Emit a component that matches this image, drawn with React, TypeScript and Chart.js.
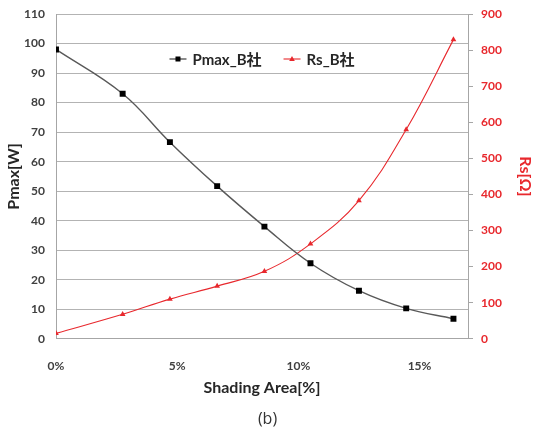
import React, { useEffect, useRef } from "react";
import { Chart, registerables } from "chart.js";

Chart.register(...registerables);

// ---- data ----
const SHADING_PCT = [0, 2.75, 4.7, 6.65, 8.6, 10.5, 12.5, 14.45, 16.4];
const PMAX_W = [98, 83, 66.6, 51.7, 38.0, 25.6, 16.3, 10.3, 6.8];
const RS_OHM = [15, 68, 110, 146, 187, 263, 383, 580, 829];
const X_TICKS = [0, 5, 10, 15];
const SERIES_LABELS = ["Pmax_B社", "Rs_B社"];
const AXIS_TITLES = { x: "Shading Area[%]", y: "Pmax[W]", y1: "Rs[Ω]" };
const CAPTION = "(b)";

const FONT = "Lato, 'Noto Sans CJK JP', sans-serif";
const GRID = "#b3b3b3";
const AXIS = "#a6a6a6";
const DARK = "#404040";
const RED = "#e8282d";

const inlineLegend = {
  id: "inlineLegend",
  afterDatasetsDraw(chart: any) {
    const { ctx, chartArea } = chart;
    const y = chartArea.top + 45;
    ctx.save();
    ctx.font = `bold 15px ${FONT}`;
    const lineLen = 17;
    const gap = 6;
    const itemGap = 22;
    const items = chart.data.datasets.map((ds: any) => ({ ds, w: ctx.measureText(ds.label).width }));
    const total =
      items.reduce((s: number, it: any) => s + lineLen + gap + it.w, 0) + itemGap * (items.length - 1);
    let x = (chartArea.left + chartArea.right) / 2 - total / 2;
    items.forEach(({ ds, w }: any) => {
      ctx.strokeStyle = ds.borderColor;
      ctx.lineWidth = ds.borderWidth;
      ctx.beginPath();
      ctx.moveTo(x, y);
      ctx.lineTo(x + lineLen, y);
      ctx.stroke();
      const cx = x + lineLen / 2;
      ctx.fillStyle = ds.pointBackgroundColor;
      if (ds.pointStyle === "rect") {
        ctx.fillRect(cx - 2.5, y - 2.5, 5, 5);
      } else {
        ctx.beginPath();
        ctx.moveTo(cx, y - 3);
        ctx.lineTo(cx + 2.8, y + 2);
        ctx.lineTo(cx - 2.8, y + 2);
        ctx.closePath();
        ctx.fill();
      }
      ctx.fillStyle = "#262626";
      ctx.textBaseline = "middle";
      ctx.textAlign = "left";
      ctx.fillText(ds.label, x + lineLen + gap, y + 1);
      x += lineLen + gap + w + itemGap;
    });
    ctx.restore();
  },
};

export default function App() {
  const ref = useRef<HTMLCanvasElement | null>(null);

  useEffect(() => {
    document.body.style.margin = "0";
    if (!ref.current) return;
    const pmaxData = SHADING_PCT.map((x, i) => ({ x, y: PMAX_W[i] }));
    const rsData = SHADING_PCT.map((x, i) => ({ x, y: RS_OHM[i] }));
    const tickFont = { family: FONT, size: 12, weight: "bold" as const };
    const titleFont = { family: FONT, size: 16, weight: "bold" as const };

    const chart = new Chart(ref.current, {
      type: "line",
      data: {
        datasets: [
          {
            label: SERIES_LABELS[0],
            data: pmaxData,
            yAxisID: "y",
            borderColor: "#595959",
            borderWidth: 1.4,
            pointStyle: "rect",
            pointRadius: 4.2,
            pointBackgroundColor: "#000000",
            pointBorderColor: "#000000",
            pointBorderWidth: 0,
            tension: 0.4,
          },
          {
            label: SERIES_LABELS[1],
            data: rsData,
            yAxisID: "y1",
            borderColor: RED,
            borderWidth: 1.1,
            pointStyle: "triangle",
            pointRadius: 3.3,
            pointBackgroundColor: RED,
            pointBorderColor: RED,
            pointBorderWidth: 0,
            tension: 0.4,
          },
        ],
      },
      options: {
        animation: false,
        responsive: false,
        devicePixelRatio: 1,
        layout: { padding: { top: 14, left: 0, right: 0, bottom: 0 } },
        plugins: {
          legend: { display: false },
          tooltip: { enabled: false },
          title: {
            display: true,
            text: CAPTION,
            position: "bottom",
            color: "#333333",
            font: { family: "'Open Sans', sans-serif", size: 16, weight: "normal" },
            padding: { top: 0, bottom: 3 },
          },
        },
        scales: {
          x: {
            type: "linear",
            min: 0,
            max: 17,
            afterBuildTicks: (s: any) => {
              s.ticks = X_TICKS.map((v) => ({ value: v }));
            },
            afterFit: (s: any) => {
              s.height = 71;
            },
            grid: { display: false, drawTicks: false },
            border: { display: true, color: AXIS, width: 1 },
            ticks: {
              padding: 20,
              color: DARK,
              font: tickFont,
              maxRotation: 0,
              callback: (v: any) => `${v}%`,
            },
            title: {
              display: true,
              text: AXIS_TITLES.x,
              color: "#262626",
              font: titleFont,
              padding: { top: 0, bottom: 12 },
            },
          },
          y: {
            position: "left",
            min: 0,
            max: 110,
            afterFit: (s: any) => {
              s.width = 56;
              s.paddingTop = 7;
              s.paddingBottom = 7;
            },
            grid: { color: GRID, drawTicks: false, lineWidth: 1 },
            border: { display: true, color: AXIS, width: 1 },
            ticks: { stepSize: 10, padding: 11, color: DARK, font: tickFont },
            title: {
              display: true,
              text: AXIS_TITLES.y,
              color: "#262626",
              font: titleFont,
              padding: { top: 4, bottom: 0 },
            },
          },
          y1: {
            position: "right",
            min: 0,
            max: 900,
            afterFit: (s: any) => {
              s.width = 67;
              s.paddingTop = 7;
              s.paddingBottom = 7;
            },
            grid: { drawOnChartArea: false, drawTicks: true, tickLength: 5, color: AXIS },
            border: { display: true, color: AXIS, width: 1 },
            ticks: { stepSize: 100, padding: 8, color: RED, font: tickFont },
            title: {
              display: true,
              text: AXIS_TITLES.y1,
              color: RED,
              font: titleFont,
              padding: { top: 0, bottom: 0 },
            },
          },
        },
      },
      plugins: [inlineLegend],
    } as any);
    return () => chart.destroy();
  }, []);

  return (
    <div style={{ width: 535, height: 432, background: "#ffffff" }}>
      <canvas ref={ref} width={535} height={432} />
    </div>
  );
}
